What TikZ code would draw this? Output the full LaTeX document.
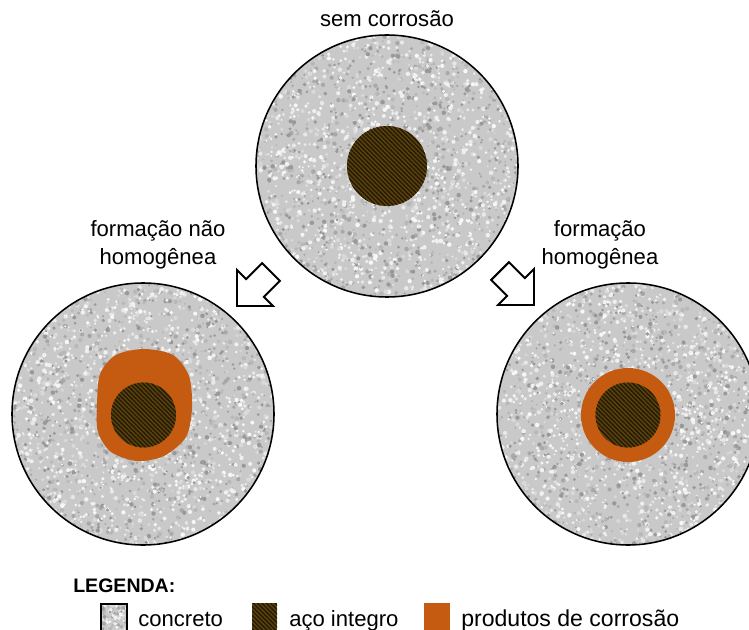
\documentclass[tikz,border=0pt]{standalone}
\usepackage{fontspec}
\setmainfont{Liberation Sans}
\usetikzlibrary{patterns.meta}

\definecolor{rustorange}{HTML}{C55A11}
\definecolor{steelbrown}{HTML}{5A420F}
\definecolor{steeldark}{HTML}{241904}

\begin{document}
\begin{tikzpicture}[
  x=0.025cm, y=-0.025cm,
  lbl/.style={font=\fontsize{15.7}{20}\selectfont, align=center, inner sep=0pt},
  leg/.style={font=\fontsize{15.7}{20}\selectfont, anchor=base west, inner sep=0pt},
  ring/.style={draw=black, line width=1.1pt},
  concbase/.style={fill=black!21},
  steel/.style={fill=steelbrown, postaction={pattern={Lines[angle=-45, distance=2.2pt, line width=0.9pt]}, pattern color=steeldark}},
  rust/.style={fill=rustorange},
  blockarr/.style={draw=black, fill=white, line width=1.4pt, line join=miter}
]
\useasboundingbox (0,0) rectangle (749,630);
\pgfmathsetseed{42}

% --- concrete sections ---
\coordinate (top)   at (387,166);
\coordinate (left)  at (143,414);
\coordinate (right) at (628,414);

% grain: one path of specks per grey level
\foreach \c in {top,left,right}{
  \begin{scope}[shift={(\c)}]
    \clip (0,0) circle (131);
    \fill[concbase] (0,0) circle (131);
    \foreach \g in {9,34,3,28,15,40,6}{
      \fill[black!\g] \foreach \k in {1,...,380}{
        ({262*rnd-131},{262*rnd-131}) circle ({1.0+1.3*rnd})};
    }
  \end{scope}
  \draw[ring] (\c) circle (131);
}

% --- steel and corrosion products ---
\fill[steel] (top) circle (40);

\fill[rust] plot[smooth cycle] coordinates {
  (97,406) (100,374) (116,355) (144,349) (173,355) (189,376)
  (192,408) (186,437) (164,456) (137,461) (111,452) (98,432)};
\fill[steel] (143.5,415) circle (32.5);

\fill[rust] (628,415) circle (47);
\fill[steel] (628,415) circle (32.5);

% --- block arrows ---
\draw[blockarr] (237,306) -- (237,270) -- (246.2,279.1) -- (262.1,263.2)
  -- (279.8,280.9) -- (263.9,296.8) -- (273,306) -- cycle;
\draw[blockarr] (534,305) -- (534,269) -- (524.8,278.1) -- (508.9,262.2)
  -- (491.2,279.9) -- (507.1,295.8) -- (498,305) -- cycle;

% --- labels ---
\node[lbl, anchor=base] (nocorr) at (387,27) {sem corrosão};
\node[lbl] (nonhom) at (158,245) {formação não\\homogênea};
\node[lbl] (hom)    at (600,245) {formação\\homogênea};

% --- legend ---
\node[font=\bfseries\fontsize{13.9}{16}\selectfont, anchor=base west, inner sep=0pt]
  (legtitle) at (73,592) {LEGENDA:};

\begin{scope}
  \clip (101,604) rectangle (127,636);
  \fill[concbase] (101,604) rectangle (127,636);
  \foreach \g in {9,34,3,28,15,40,6}{
    \fill[black!\g] \foreach \k in {1,...,14}{
      ({101+26*rnd},{604+32*rnd}) circle ({1.0+1.3*rnd})};
  }
\end{scope}
\draw[line width=1.3pt] (101,636) -- (101,604) -- (127,604) -- (127,636);
\fill[steel] (252,603) rectangle (277,636);
\fill[rust] (424,603) rectangle (450,636);

\node[leg] (lconc)  at (138,626) {concreto};
\node[leg] (lsteel) at (289,626) {aço integro};
\node[leg, font=\fontsize{16.4}{20}\selectfont] (lrust) at (461,626) {produtos de corrosão};
\end{tikzpicture}
\end{document}
